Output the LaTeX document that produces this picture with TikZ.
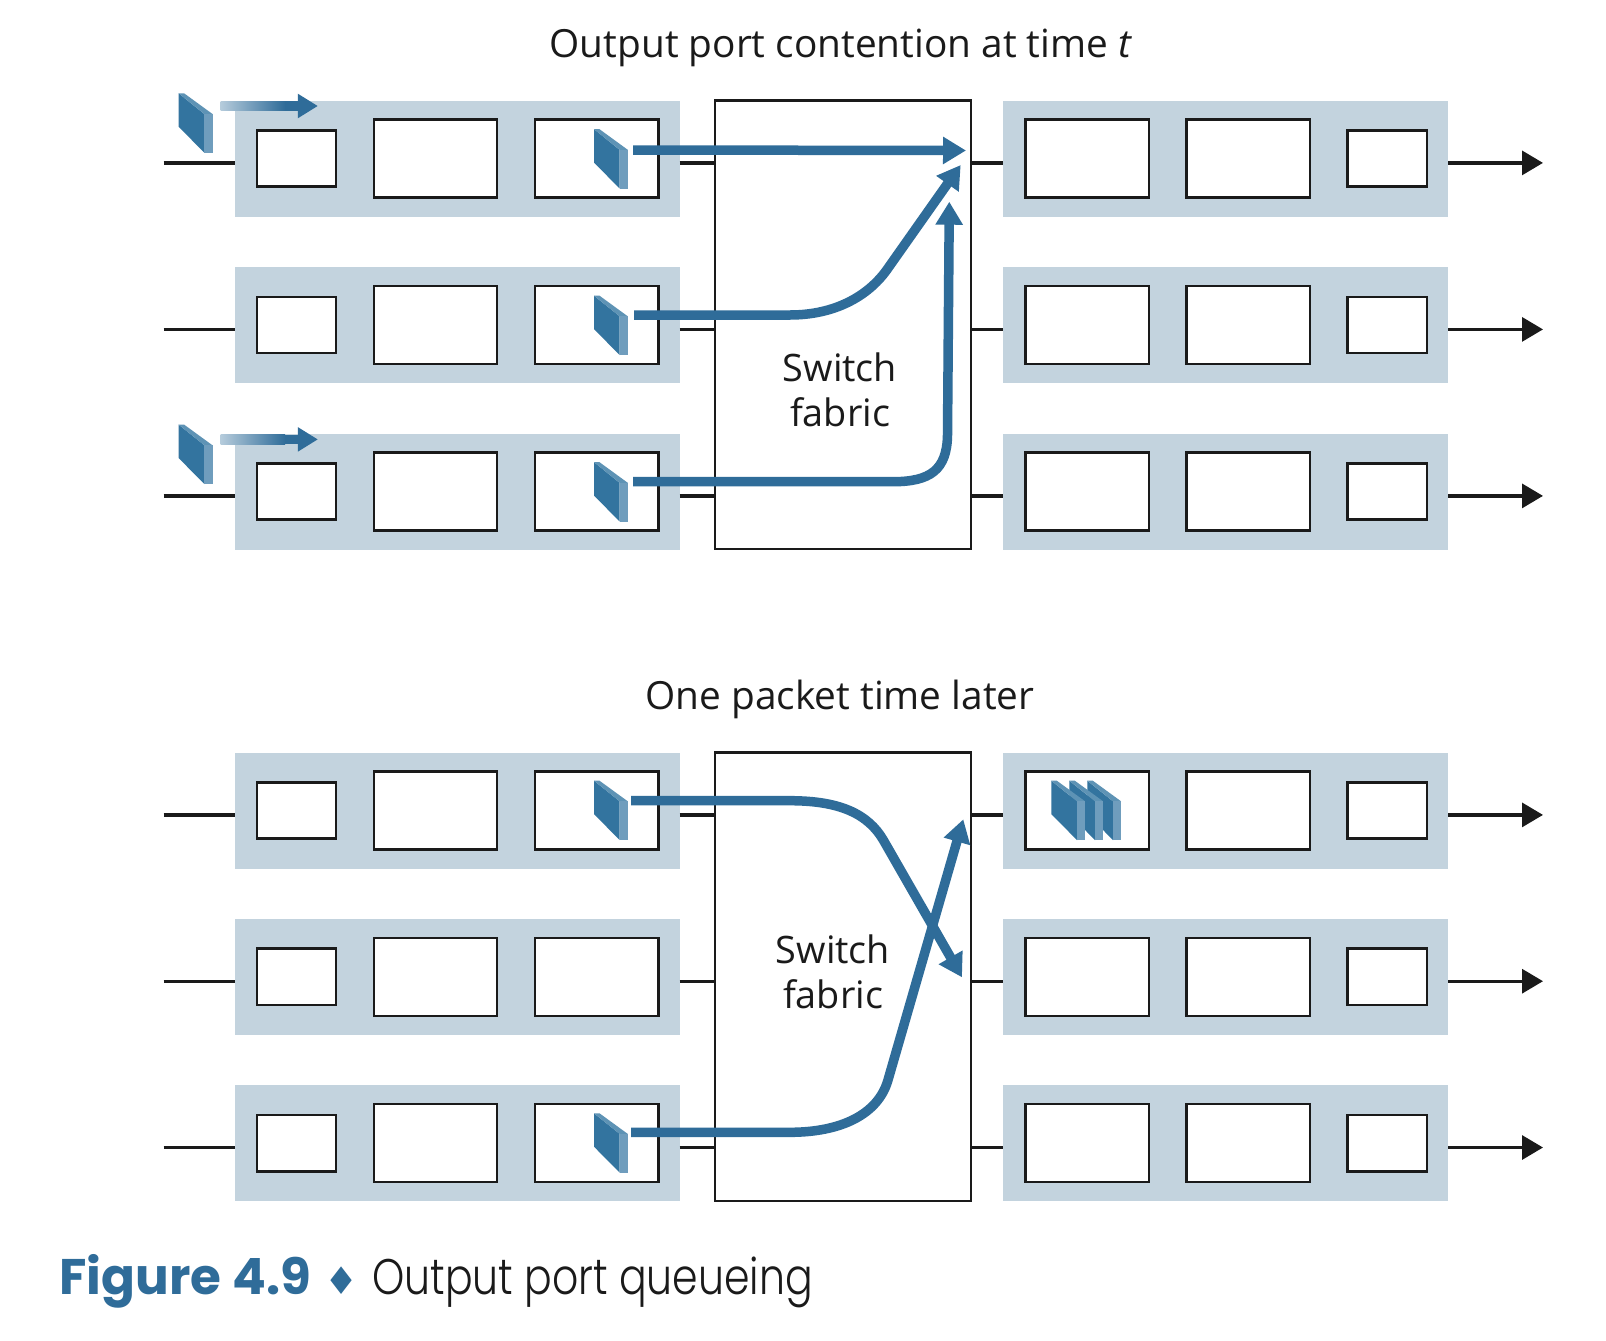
\documentclass[tikz,border=0pt]{standalone}
\usepackage{fontspec}
\usetikzlibrary{arrows.meta}
\setmainfont{Open Sans}
\newfontfamily\capfont[FakeStretch=0.82]{Poppins Light}
\newfontfamily\capboldfont[FakeStretch=1.0]{Poppins}
\newfontfamily\symfont{DejaVu Sans}
\definecolor{bandc}{HTML}{C3D3DE}
\definecolor{flowc}{HTML}{2F6C99}
\definecolor{pfront}{HTML}{33749F}
\definecolor{pside}{HTML}{6F9DBD}
\definecolor{ptop}{HTML}{5E93B5}
\definecolor{inkc}{HTML}{1A1A1A}
\definecolor{fadec}{HTML}{B5CBDB}
\tikzset{
  bandbox/.style={fill=bandc,draw=none,minimum width=445pt,minimum height=116pt,anchor=north west,inner sep=0pt,outer sep=0pt},
  smallbox/.style={fill=white,draw=inkc,line width=2.5pt,minimum width=79.3pt,minimum height=56.4pt,anchor=north west,inner sep=0pt,outer sep=0pt},
  bigbox/.style={fill=white,draw=inkc,line width=2.5pt,minimum width=123.3pt,minimum height=78pt,anchor=north west,inner sep=0pt,outer sep=0pt},
  fabricbox/.style={fill=white,draw=inkc,line width=2.2pt,minimum width=255.7pt,minimum height=448.5pt,anchor=north west,inner sep=0pt,outer sep=0pt},
  wire/.style={draw=inkc,line width=3.2pt},
  wirearrow/.style={wire,-{Triangle[length=21pt,width=24pt]}},
  flow/.style={draw=flowc,line width=9.5pt,-{Triangle[length=23pt,width=26pt]}},
  titletext/.style={font=\fontsize{38.8}{46}\selectfont,text=inkc,inner sep=0pt,anchor=base},
  fabrictext/.style={font=\fontsize{37.8}{45}\selectfont,text=inkc,inner sep=0pt,align=center,anchor=center},
  captext/.style={inner sep=0pt,anchor=base west}
}
\newcommand{\pkt}[2]{%
  \begin{scope}[shift={(#1,#2)}]
    \fill[pfront] (0,0) -- (25.7,20.7) -- (25.7,59.4) -- (0,33.4) -- cycle;
    \fill[ptop] (0,0) -- (5.5,0) -- (33.9,20.7) -- (25.7,20.7) -- cycle;
    \fill[pside] (25.7,20.7) -- (33.9,20.7) -- (33.9,59.4) -- (25.7,59.4) -- cycle;
  \end{scope}}
\newcommand{\portrow}[3]{%
  \coordinate (ln#1) at (0,#2+62.2);
  \coordinate (st#1) at (163.6,#2+62.2);
  \coordinate (en#1) at (1543,#2+62.2);
  \node[bandbox] (ib#1) at (234.6,#2) {};
  \node[bandbox] (ob#1) at (1003,#2) {};
  \node[smallbox] (ia#1) at (256.8,#2+29.6) {};
  \node[bigbox] (ic#1) at (373.9,#2+18.8) {};
  \node[bigbox] (id#1) at (535,#2+18.8) {};
  \node[bigbox] (oa#1) at (1025.5,#2+18.8) {};
  \node[bigbox] (oc#1) at (1186.5,#2+18.8) {};
  \node[smallbox] (od#1) at (1347.6,#2+29.6) {};
  \draw[wire] (st#1) -- (ib#1.west |- ln#1);
  \draw[wire] (ib#1.east |- ln#1) -- (#3.west |- ln#1);
  \draw[wire] (#3.east |- ln#1) -- (ob#1.west |- ln#1);
  \draw[wirearrow] (ob#1.east |- ln#1) -- (en#1);
}
\newcommand{\incoming}[2]{%
  \coordinate (fb#1) at (285,#2);
  \coordinate (fc#1) at (317.9,#2);
  \shade[left color=fadec,right color=flowc] (220.7,#2-4.75) rectangle (285.2,#2+4.75);
  \draw[draw=flowc,line width=9.5pt,-{Triangle[length=20pt,width=23pt]}] (fb#1) -- (fc#1);
}
\begin{document}
\begin{tikzpicture}[x=1pt,y=-1pt]
\useasboundingbox (0,0) rectangle (1606,1341);
\fill[white] (0,0) rectangle (1606,1341);

\node[titletext] (title1) at (841,57.4) {Output port contention at time \textit{t}};
\node[titletext] (title2) at (840,709) {One packet time later};

\node[fabricbox] (fabA) at (715,100.5) {};
\node[fabricbox] (fabB) at (715,752.5) {};
\node[fabrictext] (swA) at (840,390) {Switch\\fabric};
\node[fabrictext] (swB) at (833,972) {Switch\\fabric};

\portrow{1}{100.7}{fabA}
\portrow{2}{267.2}{fabA}
\portrow{3}{433.7}{fabA}
\portrow{4}{752.7}{fabB}
\portrow{5}{919}{fabB}
\portrow{6}{1085.3}{fabB}

% packets
\pkt{178.6}{93.3}
\pkt{178.6}{424.6}
\pkt{594}{129.2}
\pkt{594}{295.7}
\pkt{594}{462.2}
\pkt{594}{780.7}
\pkt{594}{1113.3}
\pkt{1087.3}{780.7}
\pkt{1069.3}{780.7}
\pkt{1051.3}{780.7}

\incoming{u}{106}
\incoming{v}{439.4}

% flow ends
\coordinate (a1) at (633,150);
\coordinate (a1e) at (966,150.5);
\coordinate (a2) at (634,315);
\coordinate (a2e) at (960.7,165);
\coordinate (a3) at (633,481.7);
\coordinate (a3e) at (949.3,201.7);
\coordinate (b1) at (631,800.7);
\coordinate (b1e) at (962,977.3);
\coordinate (b2) at (631,1132.3);
\coordinate (b2e) at (963.3,819.3);

\draw[flow] (a1) -- (a1e);
\draw[flow] (a2) -- (790,315) .. controls (835,315) and (868,296) .. (886.7,270) -- (a2e);
\draw[flow] (a3) -- (893,481.7) .. controls (930,481.7) and (947,470) .. (947.5,435) -- (a3e);
\draw[flow] (b1) -- (790,800.7) .. controls (840,800.7) and (868,814) .. (883.3,840) -- (b1e);
\draw[flow] (b2) -- (790,1132.3) .. controls (840,1132.3) and (878,1115) .. (888,1080) -- (b2e);

% caption
\node[captext,font=\capboldfont\bfseries\fontsize{50}{60}\selectfont,text=flowc] (capa) at (59.4,1294.5) {Figure 4.9};
\node[inner sep=0pt,anchor=center,font=\symfont\fontsize{38}{40}\selectfont,text=flowc] (capb) at (342,1280.5) {♦};
\node[captext,font=\capfont\fontsize{50}{60}\selectfont,text=inkc] (capc) at (372,1294.5) {Output port queueing};
\end{tikzpicture}
\end{document}
